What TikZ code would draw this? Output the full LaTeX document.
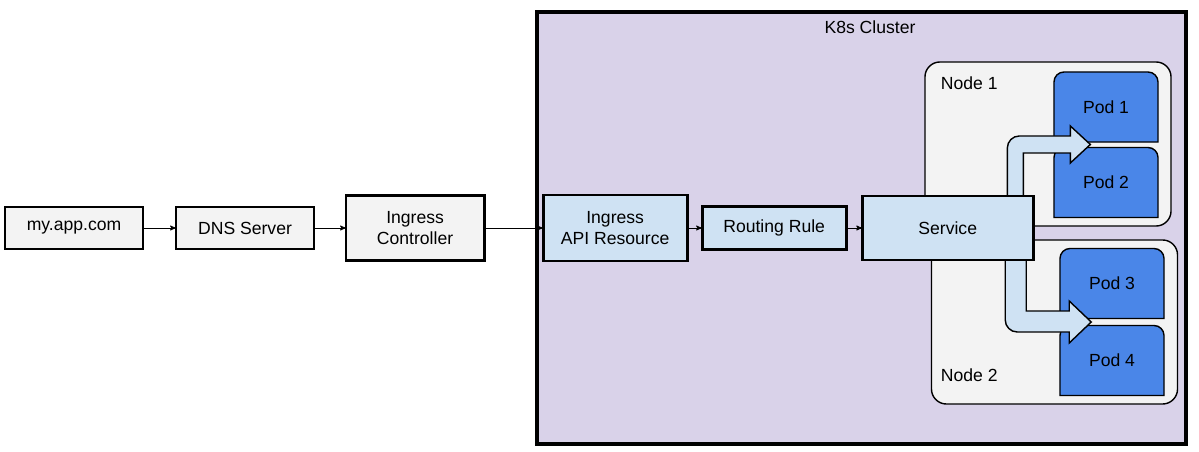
\documentclass[tikz,border=0pt]{standalone}
\usepackage{fontspec}
\setmainfont{Liberation Sans}
\usetikzlibrary{arrows,positioning,calc,backgrounds}
\definecolor{G}{RGB}{243,243,243}
\definecolor{L}{RGB}{207,226,243}
\definecolor{K}{RGB}{217,210,233}
\definecolor{P}{RGB}{74,134,232}
\tikzstyle{box} = [rectangle, draw=black, line width=2pt, outer sep=0pt,
fill=G, minimum width=3.45cm, minimum height=1.05cm, align=center]
\tikzstyle{bluebox} = [box, fill=L]
\tikzstyle{cluster} = [rectangle, draw=black, line width=2.6pt, fill=K,
minimum width=16.225cm, minimum height=10.8cm]
\tikzstyle{hostbox} = [rectangle, rounded corners=0.375cm, draw=black,
line width=1pt, fill=G, minimum width=6.15cm, minimum height=4.1cm]
\tikzstyle{podbox} = [rectangle, minimum width=2.6cm, minimum height=1.75cm, outer sep=0pt]
\tikzstyle{podline} = [draw=black, line width=1pt, fill=P]
\tikzstyle{bigarrow} = [draw=black, line width=1pt, fill=L]
\tikzstyle{arrow} = [->, line width=0.6pt]

\begin{document}
\begin{tikzpicture}[>=stealth', x=0.025cm, y=-0.025cm, font=\fontsize{12.5}{15.5}\selectfont]
    \useasboundingbox (0,0) rectangle (1199,452);

    \node[box] (app) at (74,228) {my.app.com};
    \node[box, right=0.825cm of app] (dns) {DNS Server};
    \node[box, right=0.8cm of dns, minimum height=1.625cm] (ic) {Ingress\\Controller};
    \node[bluebox, right=1.475cm of ic, minimum width=3.6cm, minimum height=1.65cm] (api) {Ingress\\API Resource};
    \node[bluebox, right=0.375cm of api, minimum width=3.6cm, minimum height=1.075cm] (rr) {Routing Rule};
    \node[bluebox, right=0.4cm of rr, minimum width=4.275cm, minimum height=1.6cm] (svc) {Service};

    \draw [arrow] (app) -- (dns);
    \draw [arrow] (dns) -- (ic);
    \draw [arrow] (ic) -- (api);
    \draw [arrow] (api) -- (rr);
    \draw [arrow] (rr) -- (svc);

    \begin{scope}[on background layer]
      \node[cluster] (k8s) at (861.5,228) {};
      \node (title) at (870,27) {K8s Cluster};
      \node[hostbox] (n1) at (1048,144) {};
      \node[hostbox] (n2) at (1054.5,322) {};
      \node[anchor=west] (n1label) at (936,83) {Node 1};
      \node[anchor=west] (n2label) at (936,375) {Node 2};

      \node[podbox] (p1) at (1106,107) {};
      \node[podbox] (p2) at (1106,182.5) {};
      \node[podbox] (p3) at (1112,283.5) {};
      \node[podbox] (p4) at (1112,360.5) {};
      \foreach \i in {1,...,4}
        \draw[podline] (p\i.south west) -- ([yshift=-0.25cm]p\i.north west)
          arc[start angle=180, end angle=90, radius=0.25cm]
          -- ([xshift=-0.25cm]p\i.north east)
          arc[start angle=90, end angle=0, radius=0.25cm]
          -- (p\i.south east) -- cycle (p\i.center) node {Pod \i};

      % service to node 1
      \draw[bigarrow] ([xshift=1.49cm]svc.north) -- ++(0,-48)
        arc[start angle=180, end angle=90, radius=0.3cm] -- ++(51,0)
        -- ++(0,-10) -- ++(20,18.5) -- ++(-20,18.5) -- ++(0,-10)
        -- ++(-47,0) -- ++(0,43) -- cycle;
      % service to node 2
      \draw[bigarrow] ([xshift=1.9625cm]svc.south) -- ++(0,51) -- ++(43,0)
        -- ++(0,-10) -- ++(22,21) -- ++(-22,21) -- ++(0,-11) -- ++(-52,0)
        arc[start angle=270, end angle=180, radius=0.3cm] -- ++(0,-60) -- cycle;
    \end{scope}
\end{tikzpicture}
\end{document}
